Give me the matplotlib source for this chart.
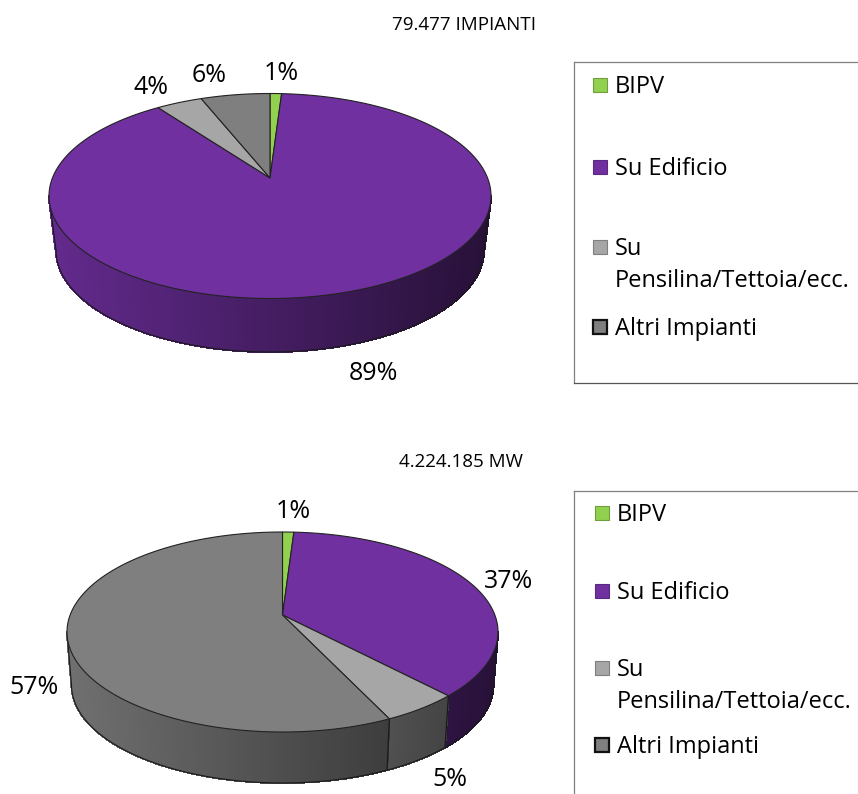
import numpy as np
from matplotlib import pyplot as plt
from matplotlib.patches import Rectangle

plt.rcParams['font.family'] = ['Open Sans', 'DejaVu Sans']

categories = ["BIPV", "Su Edificio", "Su\nPensilina/Tettoia/ecc.", "Altri Impianti"]
impianti_values = [1, 89, 4, 6]
mw_values = [1, 37, 5, 57]
impianti_title = "79.477 IMPIANTI"
mw_title = "4.224.185 MW"

colors = ["#92d050", "#7030a0", "#a6a6a6", "#7f7f7f"]
legend_edges = ["#6f9e3c", "#5a2a80", "#7f7f7f", "#111111"]


# circle -> ellipse with a perspective shift, so the apex sits above the ellipse centre
def project(angle, c):
    x = np.sin(angle)
    y = np.cos(angle)
    d = 1 + c * y
    return x * np.sqrt(1 - c * c) / d, (y + c) / d


def shade(color, t):
    rgb = np.array(plt.matplotlib.colors.to_rgb(color))
    return tuple(rgb * (0.88 - 0.53 * t))


def draw_pie(ax, values, top, bottom, c):
    cx, cy, rx, ry = top
    bx, by, brx, bry = bottom
    edges = np.cumsum([0] + list(values)) / sum(values) * 2 * np.pi

    # side wall
    for i in range(len(values)):
        a = np.linspace(edges[i], edges[i + 1], max(2, int((edges[i + 1] - edges[i]) * 90)))
        X, Y = project(a, c)
        for j in range(len(a) - 1):
            if Y[j] > 0 and Y[j + 1] > 0:
                continue
            col = shade(colors[i], (X[j] + 1) / 2)
            ax.fill([cx + rx * X[j], cx + rx * X[j + 1], bx + brx * X[j + 1], bx + brx * X[j]],
                    [cy - ry * Y[j], cy - ry * Y[j + 1], by - bry * Y[j + 1], by - bry * Y[j]],
                    color=col, lw=0.8, antialiased=False, zorder=2)
        if Y[0] < 0:
            ax.plot([cx + rx * X[0], bx + brx * X[0]], [cy - ry * Y[0], by - bry * Y[0]],
                    color="#1a1a1a", lw=0.9, zorder=3)

    # wall outline
    a = np.linspace(0, 2 * np.pi, 720)
    X, Y = project(a, c)
    low = Y <= 0
    order = np.argsort(X[low])
    ax.plot(bx + brx * X[low][order], by - bry * Y[low][order], color="#1a1a1a", lw=0.8, zorder=3)
    for s in (-1, 1):
        ax.plot([cx + s * rx, bx + s * brx], [cy, by], color="#1a1a1a", lw=0.8, zorder=3)

    # top face
    for i in range(len(values)):
        a = np.linspace(edges[i], edges[i + 1], max(2, int((edges[i + 1] - edges[i]) * 90)))
        X, Y = project(a, c)
        ax.fill(np.r_[cx, cx + rx * X], np.r_[cy - ry * c, cy - ry * Y],
                facecolor=colors[i], edgecolor="#222222", lw=0.8, zorder=4)


def draw_legend(ax, left, top, bottom, closed, box_x, text_x, rows):
    ax.plot([left, 858], [top, top], color="#808080", lw=0.9, zorder=1)
    ax.plot([left, left], [top, bottom], color="#808080", lw=0.9, zorder=1)
    if closed:
        ax.plot([left, 858], [bottom, bottom], color="#555555", lw=0.9, zorder=1)
    for i, y in enumerate(rows):
        ax.add_patch(Rectangle((box_x, y - 7), 14, 14, facecolor=colors[i], edgecolor=legend_edges[i],
                               lw=1.6 if i == 3 else 0.8))
    ax.text(text_x, rows[0] + 2, categories[0], fontsize=17, va="center")
    ax.text(text_x, rows[1] + 2, categories[1], fontsize=17, va="center")
    su, pens = categories[2].split("\n")
    ax.text(text_x, rows[2] + 2, su, fontsize=17, va="center")
    ax.text(text_x, rows[2] + 34, pens, fontsize=17, va="center")
    ax.text(text_x, rows[3] + 2, categories[3], fontsize=17, va="center")


fig = plt.figure(figsize=(8.58, 7.94), dpi=100)
ax = fig.add_axes([0, 0, 1, 1])
ax.set_xlim(0, 858)
ax.set_ylim(794, 0)
ax.axis("off")

draw_pie(ax, impianti_values, (270, 196, 221, 102.5), (270, 250, 214, 102), 0.176)
draw_pie(ax, mw_values, (282.5, 632, 215.5, 100), (282.5, 685, 211, 98), 0.17)

ax.text(464, 25, impianti_title, fontsize=13.5, ha="center", va="center")
ax.text(461, 462, mw_title, fontsize=13.5, ha="center", va="center")

for v, x, y in zip(impianti_values, [281, 373, 151, 209], [74, 373, 88, 76]):
    ax.text(x, y, f"{v}%", fontsize=18, ha="center", va="center")
for v, x, y in zip(mw_values, [293, 509, 450, 34], [511, 582, 779, 688]):
    ax.text(x, y, f"{v}%", fontsize=18, ha="center", va="center")

draw_legend(ax, 574, 62, 383, True, 593, 615, [85, 167, 247, 327])
draw_legend(ax, 574, 491, 794, False, 595, 617, [513, 591, 668, 745])

fig.savefig("out.png", dpi=100)
